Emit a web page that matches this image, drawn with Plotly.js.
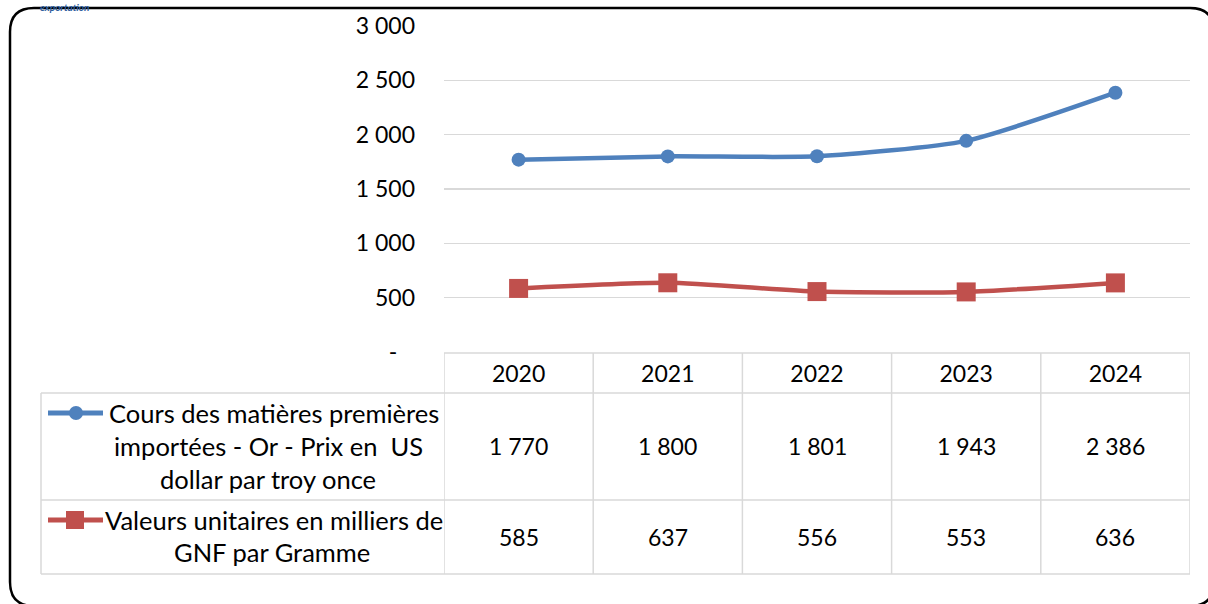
<!DOCTYPE html>
<html>
<head>
<meta charset="utf-8">
<script src="https://cdn.plot.ly/plotly-3.0.1.min.js"></script>
<style>
  html, body { margin: 0; padding: 0; background: #ffffff; }
  #chart { width: 1208px; height: 604px; }
</style>
</head>
<body>
<div id="chart"></div>
<script>
// ---- data ----
const years = ['2020', '2021', '2022', '2023', '2024'];
const goldPriceUSD = [1770, 1800, 1801, 1943, 2386];
const unitValueGNF = [585, 637, 556, 553, 636];
const seriesNames = [
  ['Cours des matières premières', 'importées - Or - Prix en\u00a0\u00a0US', 'dollar par troy once'],
  ['Valeurs unitaires en milliers de', 'GNF par Gramme']
];
const yTicks = [0, 500, 1000, 1500, 2000, 2500, 3000];
const headerText = 'exportation';

// ---- styles ----
const BLUE = '#4F81BD', RED = '#C0504D', GRID = '#D9D9D9';
const FONT = 'Lato, "Open Sans", sans-serif';
const FS = 23;      // numbers
const FS_LBL = 25.5; // row labels

// pixel geometry of plot area
const L = 444, R = 1190, T = 26, B = 352;
const W = R - L, H = B - T;
const px = p => (p - L) / W;
const py = p => 1 - (p - T) / H;

function fmt(n) {
  if (n === 0) return '-\u00a0\u00a0\u00a0';
  return String(n).replace(/\B(?=(\d{3})+(?!\d))/g, ' ');
}

const traces = [
  {
    x: years, y: goldPriceUSD, type: 'scatter', mode: 'lines+markers',
    line: { color: BLUE, width: 4.5, shape: 'spline', smoothing: 0.6 },
    marker: { symbol: 'circle', size: 14, color: BLUE },
    hoverinfo: 'skip', showlegend: false
  },
  {
    x: years, y: unitValueGNF, type: 'scatter', mode: 'lines+markers',
    line: { color: RED, width: 4.5, shape: 'spline', smoothing: 0.6 },
    marker: { symbol: 'square', size: 19, color: RED },
    hoverinfo: 'skip', showlegend: false
  }
];

// ---- table (data table under chart) ----
const shapes = [];
const hline = (x0p, x1p, yp) => shapes.push({
  type: 'line', xref: 'paper', yref: 'paper', x0: px(x0p), x1: px(x1p), y0: py(yp), y1: py(yp),
  line: { color: GRID, width: 1.5 }, layer: 'below'
});
const TBL_LEFT = 41, ROW0 = 353, ROW1 = 393, ROW2 = 500, ROW3 = 574;
hline(L, R, ROW0);
hline(TBL_LEFT, R, ROW1);
hline(TBL_LEFT, R, ROW2);
hline(TBL_LEFT, R, ROW3);
shapes.push({ type: 'line', xref: 'paper', yref: 'paper', x0: px(TBL_LEFT), x1: px(TBL_LEFT),
  y0: py(ROW1), y1: py(ROW3), line: { color: GRID, width: 1.5 } });
for (let i = 0; i <= years.length; i++) {
  shapes.push({ type: 'line', xref: 'x', yref: 'paper', x0: i - 0.5, x1: i - 0.5,
    y0: py(ROW0), y1: py(ROW3), line: { color: GRID, width: 1.5 } });
}

// legend keys inside table
const keyY = [413, 520];
[BLUE, RED].forEach((c, i) => {
  shapes.push({ type: 'line', xref: 'paper', yref: 'paper', x0: px(48), x1: px(103),
    y0: py(keyY[i]), y1: py(keyY[i]), line: { color: c, width: 5 } });
});
shapes.push({ type: 'circle', xref: 'paper', yref: 'paper', x0: px(69), x1: px(83),
  y0: py(420), y1: py(406), fillcolor: BLUE, line: { color: BLUE, width: 0 } });
shapes.push({ type: 'rect', xref: 'paper', yref: 'paper', x0: px(66), x1: px(84),
  y0: py(529), y1: py(511), fillcolor: RED, line: { color: RED, width: 0 } });

// rounded frame
(function () {
  const l = 10, t = 8, r = 1214, b = 606, rad = 24;
  const P = (x, y) => px(x) + ',' + py(y);
  const d = 'M' + P(l, b - rad) + ' L' + P(l, t + rad) + ' Q' + P(l, t) + ' ' + P(l + rad, t) +
    ' L' + P(r - rad, t) + ' Q' + P(r, t) + ' ' + P(r, t + rad) +
    ' L' + P(r, b - rad) + ' Q' + P(r, b) + ' ' + P(r - rad, b) +
    ' L' + P(l + rad, b) + ' Q' + P(l, b) + ' ' + P(l, b - rad) + ' Z';
  shapes.push({ type: 'path', xref: 'paper', yref: 'paper', path: d,
    line: { color: '#000000', width: 2.5 }, layer: 'above' });
})();

// annotations
const annotations = [];
const labelCenters = [[274, 268, 268], [274, 272]];
const labelLines = [[413, 446, 479], [520, 552]];
seriesNames.forEach((lines, i) => {
  lines.forEach((txt, j) => {
    annotations.push({ text: txt, xref: 'paper', yref: 'paper',
      x: px(labelCenters[i][j]), y: py(labelLines[i][j]), xanchor: 'center', yanchor: 'middle',
      showarrow: false, font: { family: FONT, size: FS_LBL, color: '#000000' } });
  });
});
const rowCenters = [446, 537];
[goldPriceUSD, unitValueGNF].forEach((vals, i) => {
  vals.forEach((v, k) => {
    annotations.push({ text: fmt(v), xref: 'x', yref: 'paper', x: k, y: py(rowCenters[i]),
      xanchor: 'center', yanchor: 'middle', showarrow: false,
      font: { family: FONT, size: FS, color: '#000000' } });
  });
});
annotations.push({ text: '<b><i>' + headerText + '</i></b>', xref: 'paper', yref: 'paper',
  x: px(64), y: py(0), xanchor: 'center', yanchor: 'top', borderpad: 0, showarrow: false,
  font: { family: FONT, size: 10, color: '#2E5E9E' } });

const layout = {
  width: 1208, height: 604,
  margin: { l: L, r: 1208 - R, t: T, b: 604 - B, pad: 0 },
  paper_bgcolor: '#ffffff', plot_bgcolor: '#ffffff',
  separators: ', ',
  showlegend: false,
  xaxis: {
    type: 'category', range: [-0.5, 4.5], showgrid: false, zeroline: false, showline: false,
    ticks: '', ticklabelstandoff: 6,
    tickfont: { family: FONT, size: FS, color: '#000000' }, fixedrange: true
  },
  yaxis: {
    range: [0, 3000], tickvals: yTicks, ticktext: yTicks.map(fmt),
    showgrid: true, gridcolor: GRID, gridwidth: 1.5, zeroline: false, showline: false,
    ticks: '', ticklabelstandoff: 28,
    tickfont: { family: FONT, size: FS, color: '#000000' }, fixedrange: true
  },
  shapes: shapes,
  annotations: annotations
};

Plotly.newPlot('chart', traces, layout, { displayModeBar: false, staticPlot: true });
</script>
</body>
</html>
